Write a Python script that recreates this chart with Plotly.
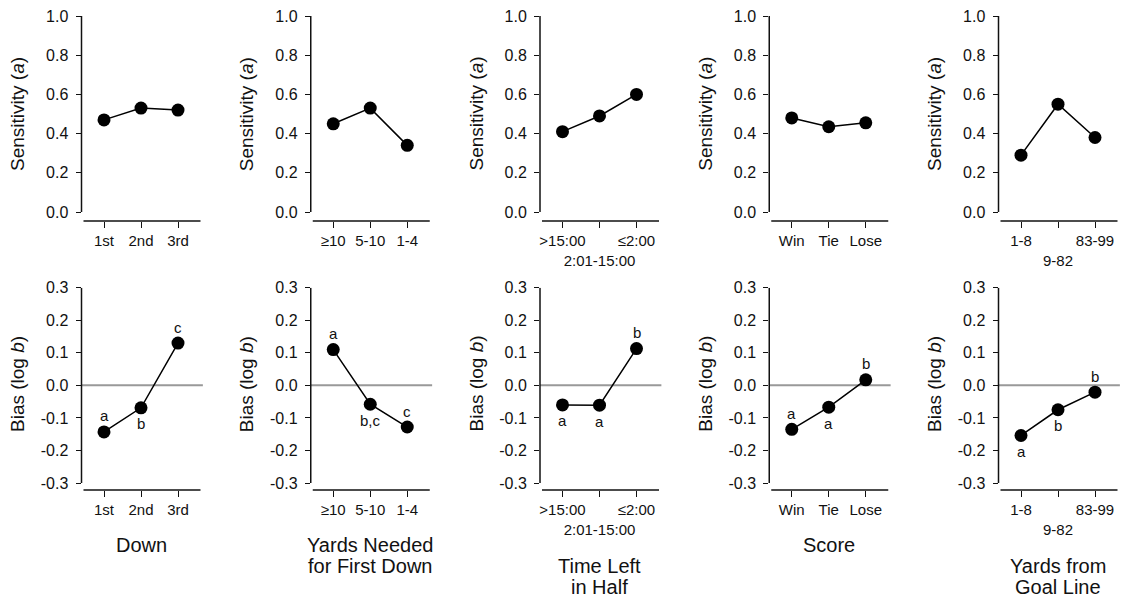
import plotly.graph_objects as go

W, H = 1125, 601

categories = [
    ["1st", "2nd", "3rd"],
    ["≥10", "5-10", "1-4"],
    [">15:00", "2:01-15:00", "≤2:00"],
    ["Win", "Tie", "Lose"],
    ["1-8", "9-82", "83-99"],
]
# tick labels that sit on a second line under the axis
second_line = [
    [False, False, False],
    [False, False, False],
    [False, True, False],
    [False, False, False],
    [False, True, False],
]
sensitivity = [
    [0.47, 0.53, 0.52],
    [0.45, 0.53, 0.34],
    [0.41, 0.49, 0.60],
    [0.48, 0.435, 0.455],
    [0.29, 0.55, 0.38],
]
bias = [
    [-0.143, -0.069, 0.130],
    [0.110, -0.058, -0.128],
    [-0.060, -0.061, 0.113],
    [-0.135, -0.067, 0.017],
    [-0.154, -0.075, -0.021],
]
bias_letters = [
    ["a", "b", "c"],
    ["a", "b,c", "c"],
    ["a", "a", "b"],
    ["a", "a", "b"],
    ["a", "b", "b"],
]
letter_above = [
    [True, False, True],
    [True, False, True],
    [False, False, True],
    [True, False, True],
    [False, False, True],
]
titles = [
    ["Down"],
    ["Yards Needed", "for First Down"],
    ["Time Left", "in Half"],
    ["Score"],
    ["Yards from", "Goal Line"],
]
sens_ticks = [0.0, 0.2, 0.4, 0.6, 0.8, 1.0]
sens_ticklabels = ["0.0", "0.2", "0.4", "0.6", "0.8", "1.0"]
bias_ticks = [-0.3, -0.2, -0.1, 0.0, 0.1, 0.2, 0.3]
bias_ticklabels = ["-0.3", "-0.2", "-0.1", "0.0", "0.1", "0.2", "0.3"]

FONT = "Liberation Sans, Arial, Helvetica, sans-serif"
BLACK = "#111111"

fig = go.Figure()
layout = dict(
    width=W, height=H, autosize=False,
    margin=dict(l=0, r=0, t=0, b=0, pad=0, autoexpand=False),
    paper_bgcolor="white", plot_bgcolor="white",
    showlegend=False,
    font=dict(family=FONT, color=BLACK),
)
shapes = []
annotations = []


def px(x):
    return x / W


def py(y):
    return 1 - y / H


TOP = dict(dom=(221, 16), rng=[-0.0459, 1.0], line=(0.0, 1.0))
BOT = dict(dom=(490, 287.7), rng=[-0.3215, 0.3], line=(-0.3, 0.3))

for k in range(5):
    ax = 81.5 + 229.25 * k
    ticktext = [("<br>" + t) if low else t for t, low in zip(categories[k], second_line[k])]
    for row, cfg in ((0, TOP), (1, BOT)):
        i = k + 1 + 5 * row
        s = "" if i == 1 else str(i)
        xr, yr = "x" + s, "y" + s
        xa = dict(
            domain=[px(ax), px(ax + 119)], range=[-0.608, 2.608],
            anchor=yr, tickvals=[0, 1, 2], ticktext=ticktext,
            ticks="outside", ticklen=6, tickwidth=1.2, tickcolor=BLACK,
            showline=False, showgrid=False, zeroline=False,
            tickangle=0, automargin=False,
            tickfont=dict(size=15, family=FONT, color=BLACK),
            fixedrange=True,
        )
        if row == 0:
            ticks, labels = sens_ticks, sens_ticklabels
        else:
            ticks, labels = bias_ticks, bias_ticklabels
        ya = dict(
            domain=[py(cfg["dom"][0]), py(cfg["dom"][1])], range=cfg["rng"],
            anchor=xr, tickvals=ticks, ticktext=labels,
            ticks="outside", ticklen=5, tickwidth=1.2, tickcolor=BLACK,
            showline=False, showgrid=False, zeroline=False,
            automargin=False,
            tickfont=dict(size=16, family=FONT, color=BLACK),
            ticklabelstandoff=4, fixedrange=True,
        )
        layout["xaxis" + s] = xa
        layout["yaxis" + s] = ya

        # range-frame axis lines
        shapes.append(dict(type="line", xref="paper", yref=yr,
                           x0=px(ax), x1=px(ax), y0=cfg["line"][0], y1=cfg["line"][1],
                           line=dict(color=BLACK, width=1.5)))
        shapes.append(dict(type="line", xref="paper", yref=yr + " domain",
                           x0=px(ax + 2), x1=px(ax + 119), y0=0, y1=0,
                           line=dict(color=BLACK, width=1.5)))

        vals = sensitivity[k] if row == 0 else bias[k]
        fig.add_trace(go.Scatter(
            x=[0, 1, 2], y=vals, mode="lines+markers",
            xaxis=xr, yaxis=yr, cliponaxis=False,
            line=dict(color="black", width=1.5),
            marker=dict(size=13, color="black"),
            hoverinfo="skip",
        ))

        # y-axis title
        annotations.append(dict(
            xref="paper", yref="paper", x=px(ax - 64.5),
            y=py(114) if row == 0 else py(384),
            text="Sensitivity (<i>a</i>)" if row == 0 else "Bias (log <i>b</i>)",
            textangle=-90, showarrow=False, xanchor="center", yanchor="middle",
            font=dict(size=19, family=FONT, color=BLACK),
        ))

        if row == 1:
            shapes.append(dict(type="line", xref=xr + " domain", yref=yr,
                               x0=0, x1=1.02, y0=0, y1=0, layer="below",
                               line=dict(color="#999999", width=2)))
            for j in range(3):
                annotations.append(dict(
                    xref=xr, yref=yr, x=j, y=bias[k][j],
                    text=bias_letters[k][j], showarrow=False,
                    xanchor="center", yanchor="middle",
                    yshift=16 if letter_above[k][j] else -16,
                    font=dict(size=15, family=FONT, color=BLACK),
                ))

    # bottom category titles
    y0 = 566 if any(second_line[k]) else 545
    for n, line in enumerate(titles[k]):
        annotations.append(dict(
            xref="paper", yref="paper", x=px(ax + 59.5), y=py(y0 + 21 * n),
            text=line, showarrow=False, xanchor="center", yanchor="middle",
            font=dict(size=20, family=FONT, color=BLACK),
        ))

layout["shapes"] = shapes
layout["annotations"] = annotations
fig.update_layout(**layout)
fig.write_html("out.html",
               config={"displayModeBar": False},
               post_script="document.body.style.margin='0';document.body.style.overflow='hidden';")
